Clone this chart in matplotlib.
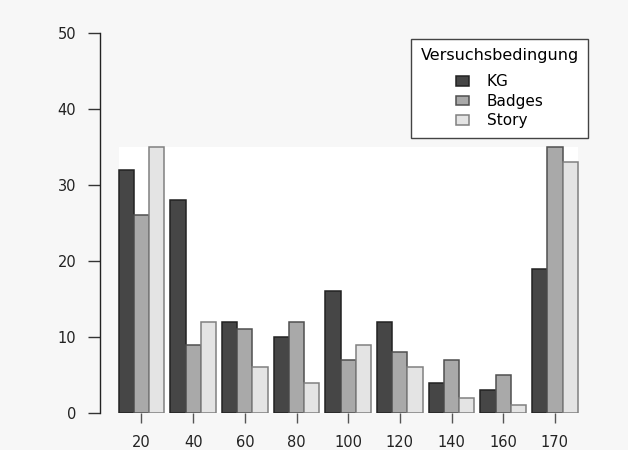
import numpy as np
import matplotlib
matplotlib.use('Agg')
import matplotlib.pyplot as plt
from matplotlib.patches import Rectangle

categories = ['20', '40', '60', '80', '100', '120', '140', '160', '170']
series_names = ['KG', 'Badges', 'Story']
kg = [32, 28, 12, 10, 16, 12, 4, 3, 19]
badges = [26, 9, 11, 12, 7, 8, 7, 5, 35]
story = [35, 12, 6, 4, 9, 6, 2, 1, 33]

fills = ['#464646', '#a9a9a9', '#e4e4e4']
edges = ['#222222', '#505050', '#808080']

bg = '#f7f7f7'
W, H = 628, 450
fig = plt.figure(figsize=(W / 100, H / 100), dpi=100, facecolor=bg)

pitch = 3.4
unit_px = 15.2
x0 = -2.73
x1 = 28.9
ax = fig.add_axes([100 / W, 37 / H, (x1 - x0) * unit_px / W, 380 / H])
ax.set_facecolor('none')

centers = np.arange(len(categories)) * pitch
data = [kg, badges, story]

# weisser Bereich hinter den Balken
ymax = max(max(s) for s in data)
ax.add_patch(Rectangle((centers[0] - 1.5, 0), centers[-1] - centers[0] + 3, ymax,
                       facecolor='white', edgecolor='none', zorder=0))

for i, (vals, name) in enumerate(zip(data, series_names)):
    ax.bar(centers + (i - 1), vals, width=1.0, color=fills[i],
           edgecolor=edges[i], linewidth=1.1, label=name, zorder=2)

ax.set_xlim(x0, x1)
ax.set_ylim(0, 50)
for s in ['top', 'right', 'bottom']:
    ax.spines[s].set_visible(False)
ax.spines['left'].set_color('#222222')
ax.spines['left'].set_linewidth(1.0)

ax.set_yticks([0, 10, 20, 30, 40, 50])
ax.tick_params(axis='y', length=9, width=1.0, color='#333333', pad=8,
               labelsize=10.5, labelcolor='#222222')
ax.set_xticks(centers)
ax.set_xticklabels(categories)
ax.tick_params(axis='x', length=7.5, width=1.0, color='#555555', pad=8,
               labelsize=10.5, labelcolor='#222222')

leg = ax.legend(title='Versuchsbedingung', loc='upper right',
                bbox_to_anchor=(588 / W, 1 - 39 / H), bbox_transform=fig.transFigure,
                borderaxespad=0,
                fontsize=11, title_fontsize=11.5, frameon=True, fancybox=False,
                framealpha=1, facecolor='white', edgecolor='#444444',
                handlelength=0.85, handleheight=0.6, handletextpad=1.2,
                labelspacing=0.3, borderpad=0.6, alignment='center')
leg._legend_box.sep = 8
leg.get_frame().set_linewidth(1.0)

fig.savefig('out.png', dpi=100, facecolor=bg)
